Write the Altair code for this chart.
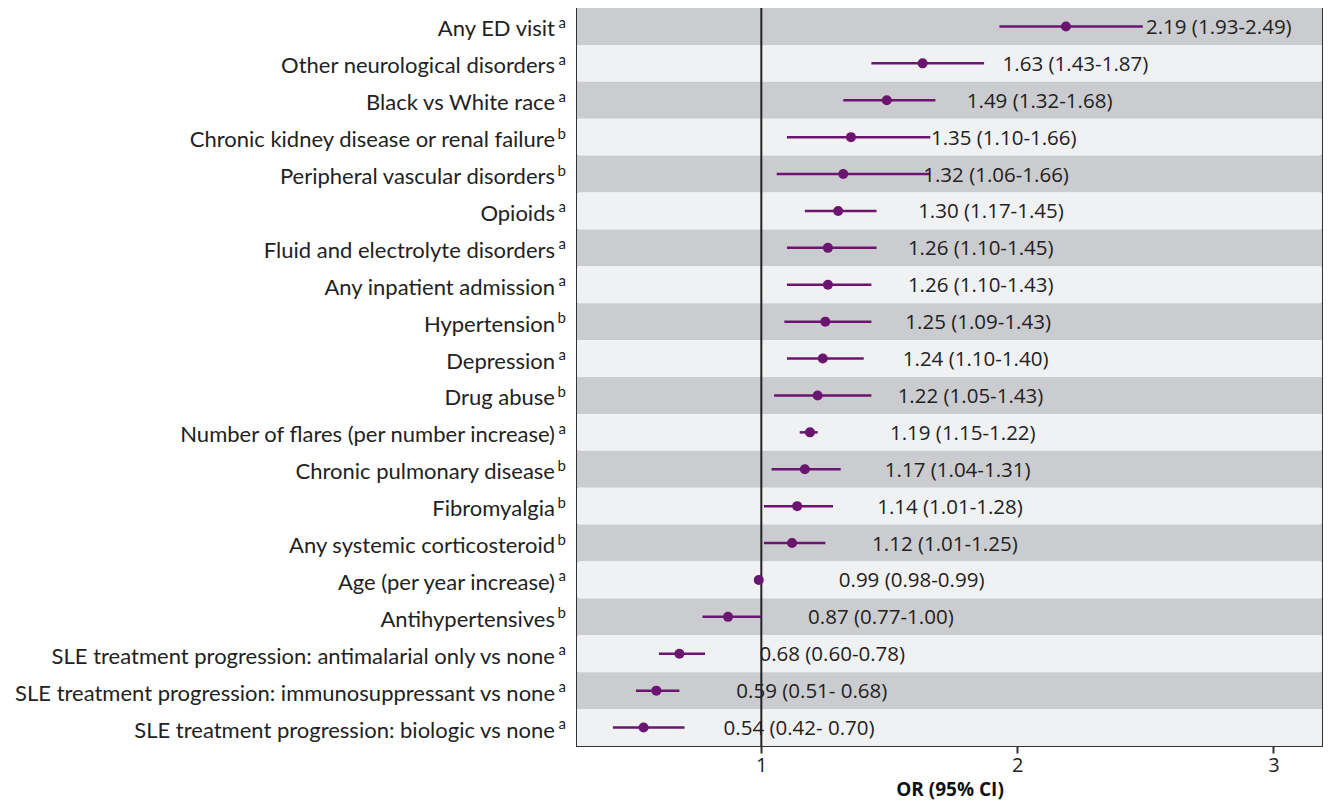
import altair as alt
import pandas as pd

labels = [
    "Any ED visit",
    "Other neurological disorders",
    "Black vs White race",
    "Chronic kidney disease or renal failure",
    "Peripheral vascular disorders",
    "Opioids",
    "Fluid and electrolyte disorders",
    "Any inpatient admission",
    "Hypertension",
    "Depression",
    "Drug abuse",
    "Number of flares (per number increase)",
    "Chronic pulmonary disease",
    "Fibromyalgia",
    "Any systemic corticosteroid",
    "Age (per year increase)",
    "Antihypertensives",
    "SLE treatment progression: antimalarial only vs none",
    "SLE treatment progression: immunosuppressant vs none",
    "SLE treatment progression: biologic vs none",
]
sup = ["a", "a", "a", "b", "b", "a", "a", "a", "b", "a",
       "b", "a", "b", "b", "b", "a", "b", "a", "a", "a"]
odds = [2.19, 1.63, 1.49, 1.35, 1.32, 1.30, 1.26, 1.26, 1.25, 1.24,
        1.22, 1.19, 1.17, 1.14, 1.12, 0.99, 0.87, 0.68, 0.59, 0.54]
lower = [1.93, 1.43, 1.32, 1.10, 1.06, 1.17, 1.10, 1.10, 1.09, 1.10,
         1.05, 1.15, 1.04, 1.01, 1.01, 0.98, 0.77, 0.60, 0.51, 0.42]
upper = [2.49, 1.87, 1.68, 1.66, 1.66, 1.45, 1.45, 1.43, 1.43, 1.40,
         1.43, 1.22, 1.31, 1.28, 1.25, 0.99, 1.00, 0.78, 0.68, 0.70]
value_text = [
    "2.19 (1.93-2.49)", "1.63 (1.43-1.87)", "1.49 (1.32-1.68)", "1.35 (1.10-1.66)",
    "1.32 (1.06-1.66)", "1.30 (1.17-1.45)", "1.26 (1.10-1.45)", "1.26 (1.10-1.43)",
    "1.25 (1.09-1.43)", "1.24 (1.10-1.40)", "1.22 (1.05-1.43)", "1.19 (1.15-1.22)",
    "1.17 (1.04-1.31)", "1.14 (1.01-1.28)", "1.12 (1.01-1.25)", "0.99 (0.98-0.99)",
    "0.87 (0.77-1.00)", "0.68 (0.60-0.78)", "0.59 (0.51- 0.68)", "0.54 (0.42- 0.70)",
]
x_ticks = [1, 2, 3]

df = pd.DataFrame({
    "label": labels,
    "sup": sup,
    "or": odds,
    "lo": lower,
    "hi": upper,
    "txt": value_text,
    "band": [i % 2 for i in range(len(labels))],
})

PURPLE = "#6b1570"
LABEL_FONT = "Lato"
VALUE_FONT = "Open Sans"
W = 745
H = 738

xscale = alt.Scale(domain=[0.28, 3.19], nice=False, zero=False)
yscale = alt.Scale(domain=labels, paddingInner=0, paddingOuter=0)
Y = alt.Y("label:N", scale=yscale, axis=None)

base = alt.Chart(df)

bands = base.mark_rect().encode(
    y=Y,
    x=alt.value(0),
    x2=alt.value(W),
    color=alt.Color("band:N", scale=alt.Scale(domain=[0, 1], range=["#cbccd0", "#f0f1f3"]), legend=None),
)

refline = alt.Chart(pd.DataFrame({"v": [1]})).mark_rule(color="#222222", strokeWidth=2).encode(
    x=alt.X("v:Q", scale=xscale,
            axis=alt.Axis(values=x_ticks, title="OR (95% CI)", format="d", grid=False,
                          domain=False, tickColor="#333333", tickSize=7, tickWidth=2,
                          labelFontSize=20, labelFont=VALUE_FONT, labelColor="#222222",
                          labelPadding=2, titleFontSize=19, titleFont=VALUE_FONT,
                          titleFontWeight="bold", titleColor="#111111", titlePadding=5)),
)

ci = base.mark_rule(color=PURPLE, strokeWidth=2.5).encode(
    y=Y,
    x=alt.X("lo:Q", scale=xscale),
    x2="hi:Q",
)

pts = base.mark_circle(color=PURPLE, opacity=1, size=100).encode(
    y=Y,
    x=alt.X("or:Q", scale=xscale),
)

vals = base.mark_text(align="left", baseline="alphabetic", dx=80, dy=7.5, fontSize=20.5,
                      font=VALUE_FONT, color="#222222").encode(
    y=Y,
    x=alt.X("or:Q", scale=xscale),
    text="txt:N",
)

ylabels = base.mark_text(align="right", baseline="alphabetic", dy=10, fontSize=22,
                         font=LABEL_FONT, color="#222222").encode(
    y=Y,
    x=alt.value(-22),
    text="label:N",
)

ysups = base.mark_text(align="right", baseline="alphabetic", dy=1.5, fontSize=15,
                       font=LABEL_FONT, color="#222222").encode(
    y=Y,
    x=alt.value(-11),
    text="sup:N",
)

chart = alt.layer(bands, refline, ci, pts, vals, ylabels, ysups).properties(
    width=W,
    height=H,
    autosize=alt.AutoSizeParams(type="none"),
    padding={"left": 569, "top": 0, "right": 1, "bottom": 54},
).configure_view(
    stroke="#333333", strokeWidth=2
)

chart.save("out.html", embed_options={"renderer": "svg", "actions": False})
